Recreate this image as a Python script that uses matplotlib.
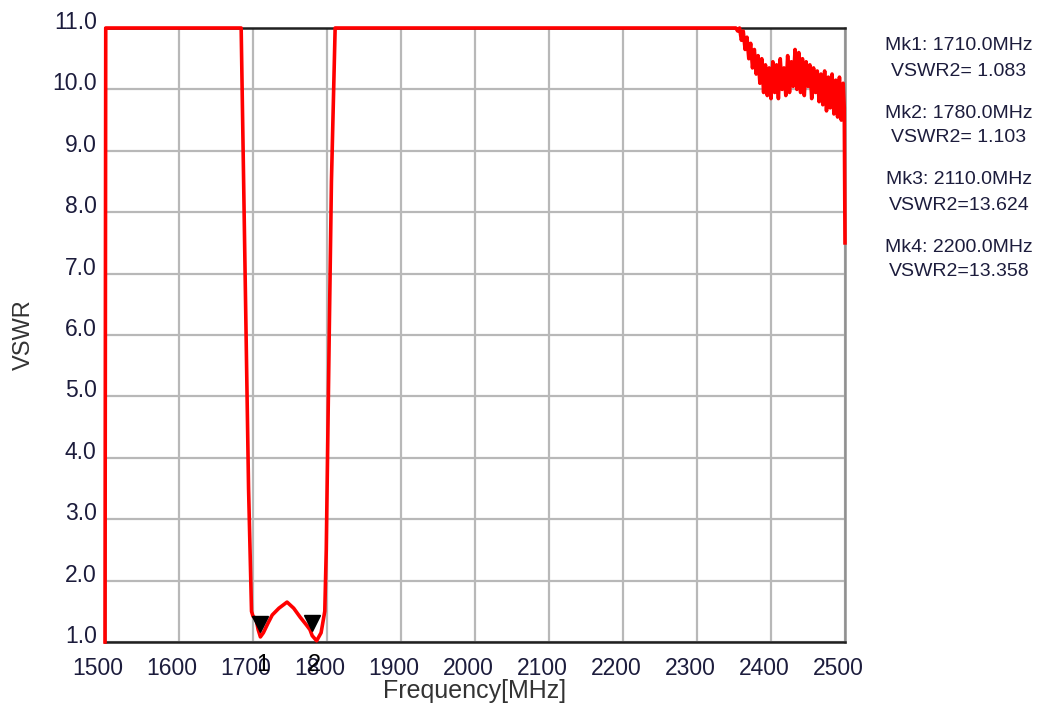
import numpy as np
import matplotlib.pyplot as plt
from matplotlib.transforms import ScaledTranslation

plt.rcParams['font.family'] = ['Liberation Sans', 'DejaVu Sans']

# measured trace (values above 11 are drawn on the top edge)
freq_mhz = [1500, 1501, 1600, 1684, 1686, 1690, 1694, 1698, 1700, 1704, 1707,
            1710, 1714, 1720, 1726, 1735, 1746, 1755, 1764, 1772, 1777, 1780,
            1786, 1792, 1797, 1799, 1803, 1806, 1808, 1811, 1900, 2000, 2110,
            2200, 2300, 2345,
            2350, 2352.5, 2355, 2357.5, 2360, 2362.5, 2365, 2367.5, 2370, 2372.5,
            2375, 2377.5, 2380, 2382.5, 2385, 2387.5, 2390, 2392.5, 2395, 2397.5,
            2400, 2402.5, 2405, 2407.5, 2410, 2412.5, 2415, 2417.5, 2420, 2422.5,
            2425, 2427.5, 2430, 2432.5, 2435, 2437.5, 2440, 2442.5, 2445, 2447.5,
            2450, 2452.5, 2455, 2457.5, 2460, 2462.5, 2465, 2467.5, 2470, 2472.5,
            2475, 2477.5, 2480, 2482.5, 2485, 2487.5, 2490, 2492.5, 2495, 2497.5,
            2499, 2500]
vswr = [1.0, 14.2, 14.8, 11.6, 9.5, 6.5, 3.5, 1.5, 1.42, 1.38, 1.2,
        1.083, 1.15, 1.3, 1.44, 1.55, 1.65, 1.55, 1.4, 1.28, 1.2, 1.103,
        1.02, 1.15, 1.5, 2.5, 6.0, 8.5, 9.5, 11.3, 13.0, 13.4, 13.624,
        13.358, 12.6, 11.8,
        11.2, 11.0, 10.95, 11.0, 10.8, 10.95, 10.65, 10.85, 10.5, 10.75,
        10.35, 10.65, 10.25, 10.55, 10.1, 10.5, 9.95, 10.4, 9.9, 10.35,
        9.85, 10.45, 9.95, 10.4, 9.85, 10.5, 10.0, 10.35, 9.9, 10.55,
        9.95, 10.45, 10.05, 10.65, 10.0, 10.6, 9.95, 10.5, 9.9, 10.45,
        10.05, 10.4, 9.85, 10.35, 9.95, 10.3, 9.8, 10.25, 9.75, 10.3,
        9.65, 10.2, 9.7, 10.25, 9.6, 10.15, 9.55, 10.2, 9.5, 10.1,
        9.7, 7.5]

mk_freq = [1710.0, 1780.0, 2110.0, 2200.0]
mk_vswr = [1.083, 1.103, 13.624, 13.358]
mk_names = ['1', '2']

xticks = list(range(1500, 2501, 100))
yticks = [1.0, 2.0, 3.0, 4.0, 5.0, 6.0, 7.0, 8.0, 9.0, 10.0, 11.0]

txt_col = '#1c1c3c'

fig = plt.figure(figsize=(10.4, 7.04), dpi=100)
ax = fig.add_axes([105 / 1040, 62 / 704, 740 / 1040, 614 / 704])

ax.set_xlim(1500, 2500)
ax.set_ylim(1.0, 11.0)
ax.set_xticks(xticks)
ax.set_yticks(yticks)
ax.set_yticklabels([f'{v:.1f}' for v in yticks])
ax.grid(True, color='#b8b8b8', lw=1.6)
ax.tick_params(length=0, labelsize=16.5, labelcolor=txt_col)
ax.tick_params(axis='x', pad=11)
ax.tick_params(axis='y', pad=6)

for lab in ax.get_xticklabels():
    lab.set_transform(lab.get_transform() + ScaledTranslation(-0.07, 0, fig.dpi_scale_trans))
for lab in ax.get_yticklabels():
    lab.set_transform(lab.get_transform() + ScaledTranslation(0, 0.08, fig.dpi_scale_trans))

for side in ['top', 'bottom']:
    ax.spines[side].set_color('#202020')
    ax.spines[side].set_linewidth(1.8)
for side in ['left', 'right']:
    ax.spines[side].set_color('#909090')
    ax.spines[side].set_linewidth(1.8)

shown = np.clip(np.array(vswr), 1.0, 11.0)
ax.plot(freq_mhz, shown, color='#ff0000', lw=2.6, clip_on=False, zorder=5)

# markers sit just above the trace
up = ScaledTranslation(0, 0.13, fig.dpi_scale_trans)
for f, v, name in zip(mk_freq[:2], mk_vswr[:2], mk_names):
    ax.plot([f], [v], marker='v', ms=11, color='black', ls='none',
            transform=ax.transData + up, zorder=6)
    ax.annotate(name, xy=(f, 0), xycoords=('data', 'axes fraction'),
                xytext=(1.5, -16.5), textcoords='offset points',
                ha='center', va='center', fontsize=17, color='black')

ax.set_xlabel('Frequency[MHz]', fontsize=18, color='#333333', labelpad=-1)
ax.set_ylabel('VSWR', fontsize=17, color='#333333', labelpad=12)

ys = [46, 72, 113, 138, 180, 205, 247, 272]
lines = []
for i, (f, v) in enumerate(zip(mk_freq, mk_vswr)):
    lines.append(f'Mk{i + 1}: {f:.1f}MHz')
    if v < 10:
        lines.append(f'VSWR2= {v:.3f}')
    else:
        lines.append(f'VSWR2={v:.3f}')
for y, s in zip(ys, lines):
    fig.text(959 / 1040, 1 - y / 704, s, ha='center', va='center',
             fontsize=14, color=txt_col)

fig.savefig('out.png', dpi=100)
